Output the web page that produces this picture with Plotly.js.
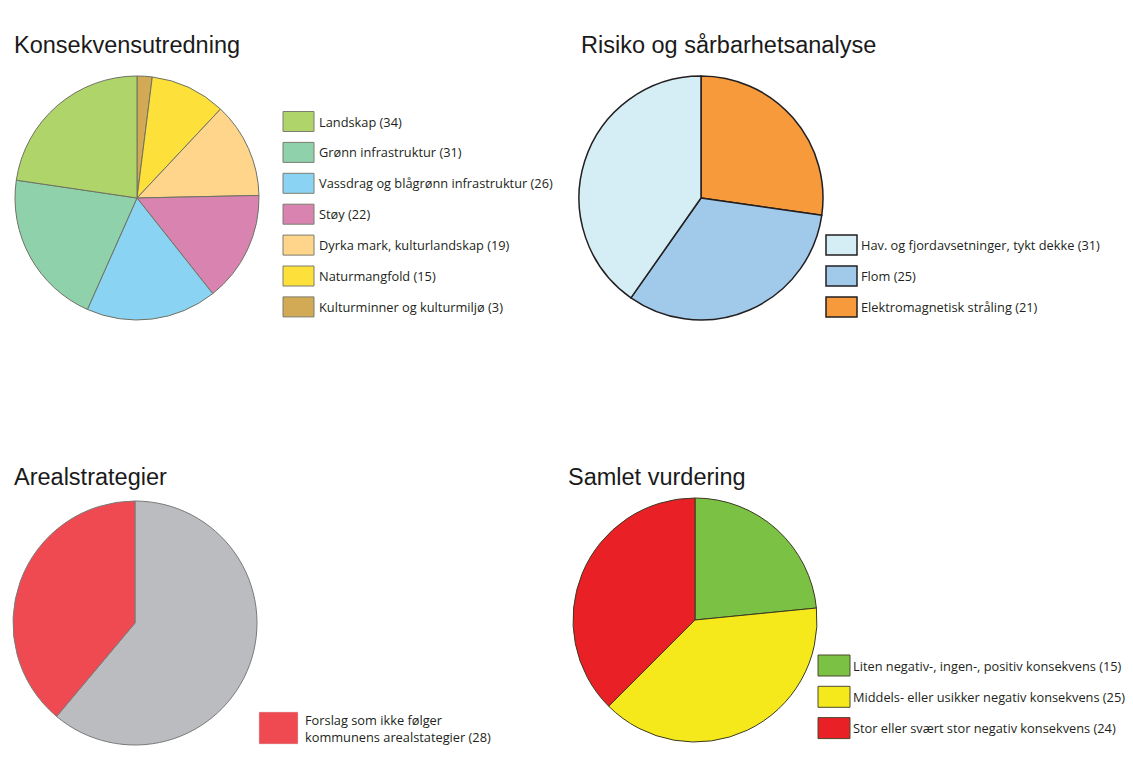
<!DOCTYPE html>
<html>
<head>
<meta charset="utf-8">
<script src="https://cdn.plot.ly/plotly-3.0.1.min.js"></script>
<style>html,body{margin:0;padding:0;background:#fff;}#chart{width:1133px;height:765px;}</style>
</head>
<body>
<div id="chart"></div>
<script>
// ---- DATA ----
var kuTitle = "Konsekvensutredning";
var kuLabels = ["Landskap", "Grønn infrastruktur", "Vassdrag og blågrønn infrastruktur", "Støy", "Dyrka mark, kulturlandskap", "Naturmangfold", "Kulturminner og kulturmiljø"];
var kuValues = [34, 31, 26, 22, 19, 15, 3];
var kuColors = ["#afd46a", "#8fd1ab", "#8bd3f3", "#d883b0", "#fed58b", "#fde13a", "#d2aa55"];

var rosTitle = "Risiko og sårbarhetsanalyse";
var rosLabels = ["Hav. og fjordavsetninger, tykt dekke", "Flom", "Elektromagnetisk stråling"];
var rosValues = [31, 25, 21];
var rosColors = ["#d5edf4", "#a0c9ea", "#f69a3b"];

var arTitle = "Arealstrategier";
var arLabels = ["Forslag som ikke følger<br>kommunens arealstategier", "Øvrige forslag"];
var arValues = [28, 44];
var arColors = ["#ef4a51", "#bbbcbf"];
var arLegendCount = 1;

var svTitle = "Samlet vurdering";
var svLabels = ["Liten negativ-, ingen-, positiv konsekvens", "Middels- eller usikker negativ konsekvens", "Stor eller svært stor negativ konsekvens"];
var svValues = [15, 25, 24];
var svColors = ["#7bc143", "#f6e91b", "#e92127"];

// ---- LAYOUT HELPERS ----
var W = 1133, H = 765;
function dom(cx, cy, r) {
  return {x: [(cx - r) / W, (cx + r) / W], y: [(H - (cy + r)) / H, (H - (cy - r)) / H]};
}
function rev(a) { return a.slice().reverse(); }
// ccw: slices laid out counter-clockwise from 12 o'clock (drawn as reversed clockwise order)
var panels = [
  {labels: kuLabels, values: kuValues, colors: kuColors, title: kuTitle, ccw: true,
   cx: 137, cy: 198, r: 122, line: "#6e7263", lw: 1,
   tx: 12, ty: 45, lx: 283, ly: 121.5, dy: 30.9, sw: 31, sh: 20, tgap: 3, sb: "#7d7d70", sbw: 1, count: 7},
  {labels: rosLabels, values: rosValues, colors: rosColors, title: rosTitle, ccw: true,
   cx: 701, cy: 198, r: 122, line: "#231f20", lw: 1.5,
   tx: 579, ty: 45, lx: 826, ly: 245, dy: 31, sw: 31, sh: 20, tgap: 2, sb: "#231f20", sbw: 1.5, count: 3},
  {labels: arLabels, values: arValues, colors: arColors, title: arTitle, ccw: true,
   cx: 135, cy: 623, r: 122, line: "#7a7a7a", lw: 1,
   tx: 12, ty: 477, lx: 259, ly: 728, dy: 31, sw: 39, sh: 32, tgap: 5, sb: "#d0d0d0", sbw: 0.5, count: arLegendCount},
  {labels: svLabels, values: svValues, colors: svColors, title: svTitle, ccw: false,
   cx: 695, cy: 620, r: 122, line: "#3b3a22", lw: 1,
   tx: 566, ty: 477, lx: 818, ly: 665.5, dy: 31.3, sw: 32, sh: 21, tgap: 1, sb: "#4b4b30", sbw: 1, count: 3}
];

var traces = [], shapes = [], annotations = [];
var legendFont = {family: "'Open Sans', 'Noto Sans', sans-serif", size: 12.8, color: "#231f20"};
panels.forEach(function (p) {
  traces.push({
    type: "pie",
    labels: p.ccw ? rev(p.labels) : p.labels,
    values: p.ccw ? rev(p.values) : p.values,
    sort: false, direction: "clockwise", rotation: 0,
    marker: {colors: p.ccw ? rev(p.colors) : p.colors, line: {color: p.line, width: p.lw}},
    textinfo: "none", hoverinfo: "label+value", showlegend: false, automargin: false,
    domain: dom(p.cx, p.cy, p.r)
  });
  annotations.push({
    xref: "paper", yref: "paper", x: p.tx / W, y: 1 - p.ty / H, xanchor: "left", yanchor: "middle",
    text: p.title, showarrow: false, font: {family: "'Liberation Sans', Arial, sans-serif", size: 23.5, color: "#1a1a1a"}
  });
  for (var i = 0; i < p.count; i++) {
    var yc = p.ly + i * p.dy;
    shapes.push({
      type: "rect", xref: "paper", yref: "paper",
      x0: p.lx / W, x1: (p.lx + p.sw) / W, y0: 1 - (yc - p.sh / 2) / H, y1: 1 - (yc + p.sh / 2) / H,
      fillcolor: p.colors[i], line: {color: p.sb, width: p.sbw}
    });
    annotations.push({
      xref: "paper", yref: "paper", x: (p.lx + p.sw + p.tgap) / W, y: 1 - yc / H,
      xanchor: "left", yanchor: "middle", align: "left", showarrow: false,
      text: p.labels[i] + " (" + p.values[i] + ")", font: legendFont
    });
  }
});

var layout = {
  width: W, height: H, margin: {l: 0, r: 0, t: 0, b: 0},
  paper_bgcolor: "#ffffff", plot_bgcolor: "#ffffff",
  showlegend: false, shapes: shapes, annotations: annotations
};
Plotly.newPlot("chart", traces, layout, {displayModeBar: false, staticPlot: true});
</script>
</body>
</html>
